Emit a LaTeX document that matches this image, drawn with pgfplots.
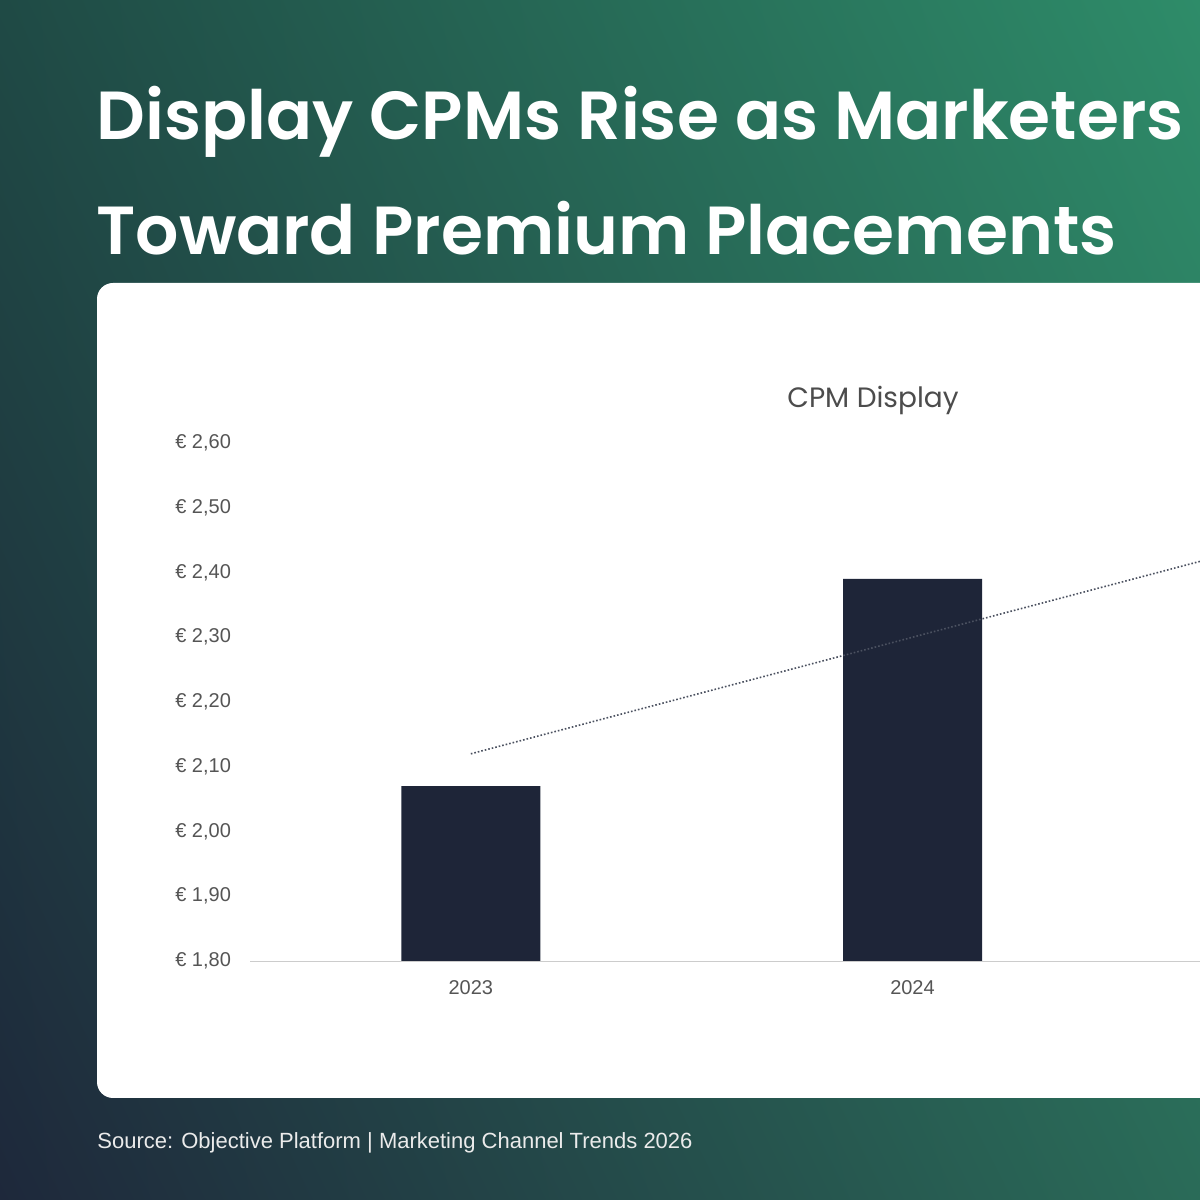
\documentclass[border=0pt]{standalone}
\usepackage{pgfplots}
\pgfplotsset{compat=1.18}
\usetikzlibrary{shadings}
\usepackage{fontspec}
\setmainfont{Liberation Sans}
\newfontfamily\titlefont{Poppins}[BoldFont={* SemiBold}]
\definecolor{bar}{HTML}{1E2538}
\definecolor{tl}{HTML}{1F4A45}
\definecolor{tr}{HTML}{2E8C69}
\definecolor{bl}{HTML}{1E283B}
\definecolor{br}{HTML}{2A6B58}
\definecolor{tick}{HTML}{555555}
\begin{document}
\begin{tikzpicture}[x=1pt,y=1pt]
\useasboundingbox (0,0) rectangle (600,600);
\clip (0,0) rectangle (600,600);
\shade[upper left=tl, upper right=tr, lower left=bl, lower right=br] (0,0) rectangle (600,600);
\fill[white, rounded corners=8pt] (48.5,51) rectangle (660,458.5);
\node[anchor=base west, inner sep=0, text=white, font=\titlefont\bfseries\fontsize{34}{40}\selectfont] at (48,530) {Display CPMs Rise as Marketers Shift};
\node[anchor=base west, inner sep=0, text=white, font=\titlefont\bfseries\fontsize{34}{40}\selectfont] at (48,472.5) {Toward Premium Placements};
\node[text=tick!90!black, font=\titlefont\fontsize{14}{16}\selectfont] at (436.5,400) {CPM Display};
\node[anchor=base west, inner sep=0, text=white!92!black, font=\fontsize{11}{13}\selectfont] at (48.5,25.5) {Source: Objective Platform \textbar{} Marketing Channel Trends 2026};
\begin{axis}[at={(125pt,119.5pt)}, anchor=south west, scale only axis,
  width=662.5pt, height=259pt,
  xmin=-0.5, xmax=2.5, ymin=1.8, ymax=2.6,
  axis line style={draw=none}, axis x line*=bottom, axis y line*=left,
  xtick={0,1,2}, xticklabels={2023,2024,2025},
  ytick={1.8,1.9,2.0,2.1,2.2,2.3,2.4,2.5,2.6},
  yticklabels={{€ 1,80},{€ 1,90},{€ 2,00},{€ 2,10},{€ 2,20},{€ 2,30},{€ 2,40},{€ 2,50},{€ 2,60}},
  major tick length=0pt,
  ticklabel style={font=\fontsize{10}{12}\selectfont, text=tick},
  yticklabel style={xshift=-6pt},
  xticklabel style={yshift=-6pt},
  clip=false]
\addplot[ybar, bar width=69.5pt, fill=bar, draw=none] coordinates {(0,2.07) (1,2.39) (2,2.44)};
\addplot[densely dotted, thick, color=bar!80] coordinates {(0,2.12) (2,2.48)};
\addplot[gray!40, thin] coordinates {(-0.5,1.8) (2.5,1.8)};
\end{axis}
\end{tikzpicture}
\end{document}
